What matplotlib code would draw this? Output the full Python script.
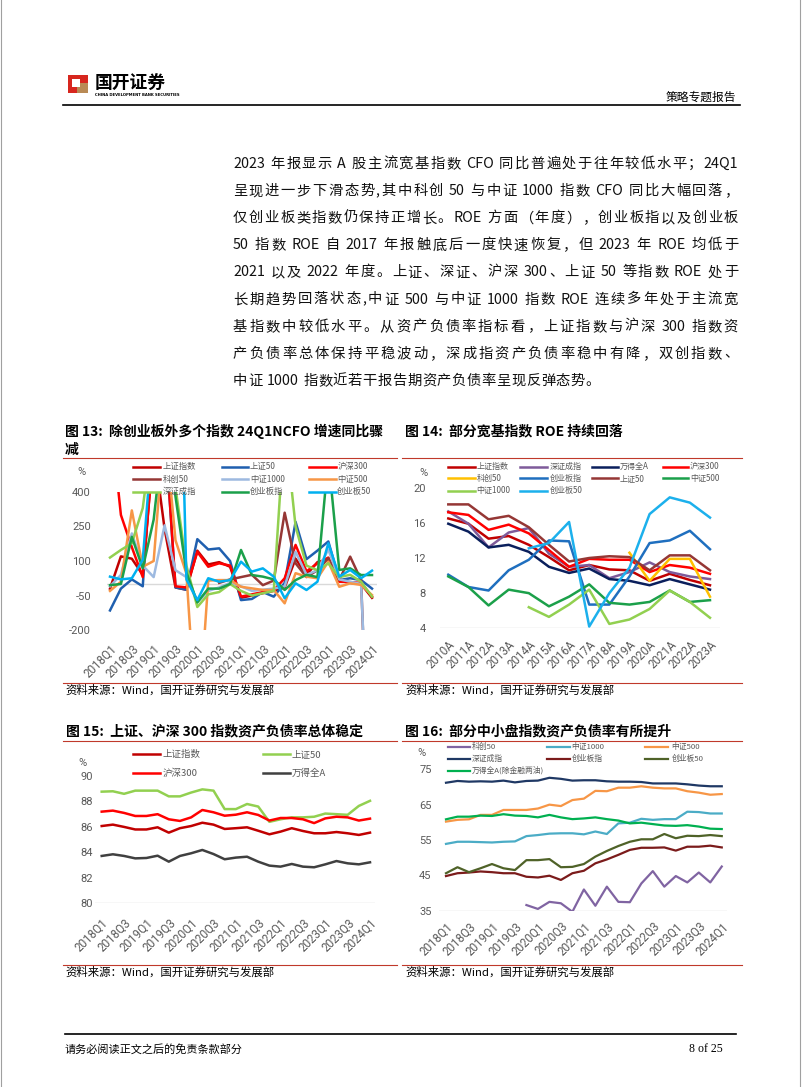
import matplotlib
matplotlib.use("Agg")
import matplotlib.pyplot as plt
import numpy as np
from matplotlib.lines import Line2D
from matplotlib.patches import Rectangle

W, H = 802, 1087
CJK = ["Noto Sans CJK SC", "DejaVu Sans"]
NUM = ["Roboto", "DejaVu Sans"]
GRAY = "#595959"
BASE = "#D9D9D9"
RULE = "#C0392B"
nan = np.nan

# ---------------- body text ----------------
body_lines = [
    "2023 年报显示 A 股主流宽基指数 CFO 同比普遍处于往年较低水平；24Q1",
    "呈现进一步下滑态势,其中科创 50 与中证 1000 指数 CFO 同比大幅回落，",
    "仅创业板类指数仍保持正增长。ROE 方面（年度），创业板指以及创业板",
    "50 指数 ROE 自 2017 年报触底后一度快速恢复，但 2023 年 ROE 均低于",
    "2021 以及 2022 年度。上证、深证、沪深 300、上证 50 等指数 ROE 处于",
    "长期趋势回落状态,中证 500 与中证 1000 指数 ROE 连续多年处于主流宽",
    "基指数中较低水平。从资产负债率指标看，上证指数与沪深 300 指数资",
    "产负债率总体保持平稳波动，深成指资产负债率稳中有降，双创指数、",
    "中证 1000 指数近若干报告期资产负债率呈现反弹态势。",
]

# ---------------- 图13: NCFO 同比 ----------------
quarters = ["2018Q1", "2018Q2", "2018Q3", "2018Q4", "2019Q1", "2019Q2", "2019Q3",
            "2019Q4", "2020Q1", "2020Q2", "2020Q3", "2020Q4", "2021Q1", "2021Q2",
            "2021Q3", "2021Q4", "2022Q1", "2022Q2", "2022Q3", "2022Q4", "2023Q1",
            "2023Q2", "2023Q3", "2023Q4", "2024Q1"]
cfo_names = ["上证指数", "上证50", "沪深300", "科创50", "中证1000", "中证500",
             "深证成指", "创业板指", "创业板50"]
cfo_colors = ["#C00000", "#1F5FAF", "#FF0000", "#953735", "#9DB9E0", "#F79646",
              "#92D050", "#1BA04A", "#00B0F0"]
cfo_sh = [-20, 120, 110, 40, 600, 240, -15, -25, 145, 85, 95, 75, -60, -50, -40,
          -30, -15, 110, 40, 95, 105, 15, 5, 0, -60]
cfo_sz50 = [-115, -20, 20, -10, 700, 700, -15, -25, 195, 150, 155, 100, -70, -65,
            -35, -55, 5, 270, 108, 145, 185, 17, 25, 17, -20]
cfo_hs300 = [750, 300, 160, 30, 600, 700, -10, -15, 140, 75, 90, 80, -55, -45, -35,
             -28, 25, 170, 55, 90, 115, 10, 8, 5, -55]
cfo_kc50 = [nan, nan, nan, nan, nan, nan, nan, nan, nan, nan, 5, 20, 30, 40, -5,
            15, 310, 90, 30, 60, 112, 17, 119, 17, -1250]
cfo_zz1000 = [-10, 40, 220, 80, 30, 255, 60, 30, -80, -30, -15, 5, -10, -30, -25,
              -20, -10, 140, 40, 60, 150, 20, 10, 0, -1100]
cfo_zz500 = [-30, 10, 320, 75, 100, 700, 190, 45, -680, 15, 17, 17, -12, -19, -26,
             -26, -84, 47, 32, 25, 97, -12, 3, -4, -48]
cfo_szcz = [115, 148, 177, 330, 700, 700, 420, 80, -100, -45, -35, 0, -30, -50, -40,
            -30, 700, 250, 80, 60, 90, 30, 40, 10, -55]
cfo_cyb = [-5, 0, 205, 68, 280, 700, 380, 50, -80, -20, -20, 0, 148, 39, 32, 20,
           -26, 17, 40, 30, 550, 61, 68, 39, 39]
cfo_cyb50 = [32, 20, 25, 105, 700, 700, 1900, 20, -70, 25, 10, 17, 97, 54, 68, 32,
             -62, 3, -26, 10, 177, 32, 61, 25, 58]
cfo_series = [cfo_sh, cfo_sz50, cfo_hs300, cfo_kc50, cfo_zz1000, cfo_zz500,
              cfo_szcz, cfo_cyb, cfo_cyb50]
cfo_yticks = [-200, -50, 100, 250, 400]

# ---------------- 图14: ROE ----------------
years = ["2010A", "2011A", "2012A", "2013A", "2014A", "2015A", "2016A", "2017A",
         "2018A", "2019A", "2020A", "2021A", "2022A", "2023A"]
roe_names = ["上证指数", "深证成指", "万得全A", "沪深300", "科创50", "创业板指",
             "上证50", "中证500", "中证1000", "创业板50"]
roe_colors = ["#C00000", "#7E5B9A", "#0A1F5C", "#FF0000", "#FFC000", "#1F6FBF",
              "#953735", "#1BA04A", "#92D050", "#1CB0EC"]
roe_sh = [16.5, 15.9, 14.2, 14.5, 13.5, 12.1, 10.6, 11.2, 10.7, 10.6, 9.4, 10.2, 9.5, 8.9]
roe_szcz = [17.3, 15.9, 13.2, 14.9, 15.4, 12.5, 11.0, 11.2, 9.7, 10.4, 11.5, 10.4, 9.9, 9.6]
roe_wdqa = [15.9, 15.0, 13.2, 13.5, 12.7, 11.0, 10.3, 10.8, 9.6, 9.4, 8.9, 9.6, 9.0, 8.4]
roe_hs300 = [17.2, 16.9, 15.2, 15.8, 14.8, 12.9, 11.0, 11.9, 11.8, 11.8, 10.4, 11.2, 10.9, 10.2]
roe_kc50 = [nan, nan, nan, nan, nan, nan, nan, nan, nan, 12.6, 9.4, 11.9, 11.9, 7.6]
roe_cyb = [10.1, 8.7, 8.3, 10.6, 11.8, 14.0, 13.9, 6.7, 6.7, 9.9, 13.7, 14.0, 15.1, 13.0]
roe_sz50 = [18.1, 18.1, 16.4, 16.8, 15.5, 13.5, 11.6, 12.0, 12.2, 12.1, 10.6, 12.3, 12.3, 10.6]
roe_zz500 = [9.9, 8.7, 6.6, 8.4, 8.0, 6.5, 7.6, 9.0, 6.9, 6.7, 7.0, 8.3, 7.0, 7.2]
roe_zz1000 = [nan, nan, nan, nan, 6.4, 5.3, 6.7, 8.4, 4.5, 5.0, 6.2, 8.3, 7.0, 5.2]
roe_cyb50 = [nan, nan, nan, nan, 13.1, 13.7, 16.1, 4.2, 8.0, 10.9, 17.0, 18.9, 18.3, 16.6]
roe_series = [roe_sh, roe_szcz, roe_wdqa, roe_hs300, roe_kc50, roe_cyb, roe_sz50,
              roe_zz500, roe_zz1000, roe_cyb50]
roe_yticks = [4, 8, 12, 16, 20]

# ---------------- 图15: 资产负债率 (大盘) ----------------
lev_names = ["上证指数", "上证50", "沪深300", "万得全A"]
lev_colors = ["#C00000", "#92D050", "#FF0000", "#404040"]
lev_sh = [86.07, 86.18, 86.0, 85.8, 85.8, 85.97, 85.55, 85.9, 86.07, 86.33, 86.18,
          85.84, 85.9, 85.97, 85.7, 85.42, 85.63, 85.9, 85.68, 85.5, 85.5, 85.6,
          85.5, 85.37, 85.55]
lev_sz50 = [88.77, 88.8, 88.6, 88.85, 88.85, 88.85, 88.4, 88.4, 88.7, 88.95, 88.85,
            87.4, 87.4, 87.8, 87.6, 86.4, 86.6, 86.75, 86.75, 86.8, 87.05, 87.0,
            86.95, 87.65, 88.05]
lev_hs300 = [87.2, 87.28, 87.1, 86.86, 86.86, 87.0, 86.6, 86.47, 86.75, 87.33, 87.15,
             86.88, 86.96, 87.15, 86.94, 86.5, 86.7, 86.7, 86.6, 86.3, 86.67, 86.8,
             86.75, 86.5, 86.65]
lev_wdqa = [83.72, 83.85, 83.72, 83.53, 83.56, 83.74, 83.27, 83.72, 83.93, 84.19,
            83.87, 83.46, 83.59, 83.66, 83.27, 82.96, 82.88, 83.09, 82.88, 82.83,
            83.06, 83.32, 83.14, 83.06, 83.22]
lev_series = [lev_sh, lev_sz50, lev_hs300, lev_wdqa]
lev_yticks = [80, 82, 84, 86, 88, 90]

# ---------------- 图16: 资产负债率 (中小盘) ----------------
mid_names = ["科创50", "中证1000", "中证500", "深证成指", "创业板指", "创业板50",
             "万得全A(除金融两油)"]
mid_colors = ["#8064A2", "#4BACC6", "#F79646", "#1F3864", "#7B1B1B", "#4F6228",
              "#00B050"]
mid_kc50 = [nan, nan, nan, nan, nan, nan, nan, 36.6, 35.5, 37.5, 37.1, 34.7, 41.0,
            36.4, 41.8, 37.5, 37.4, 42.7, 46.2, 41.8, 44.8, 43.0, 45.8, 43.0, 47.5]
mid_zz1000 = [53.9, 54.5, 54.5, 54.4, 54.3, 54.5, 54.6, 56.1, 56.4, 56.8, 56.9, 56.9,
              56.6, 57.4, 56.7, 59.7, 59.9, 61.0, 60.7, 60.9, 60.9, 63.0, 62.9, 62.5,
              62.5]
mid_zz500 = [60.2, 60.7, 60.85, 62.1, 62.1, 63.5, 63.5, 63.5, 63.9, 65.0, 64.6, 66.3,
             66.7, 68.9, 68.8, 69.8, 69.8, 70.2, 69.8, 69.6, 69.6, 68.8, 68.4, 67.8,
             68.0]
mid_szcz = [71.2, 71.7, 71.5, 71.6, 71.5, 71.8, 71.3, 71.7, 71.8, 72.6, 72.3, 71.8,
            71.9, 71.9, 71.6, 71.5, 71.5, 71.4, 71.0, 71.0, 71.0, 70.75, 70.4, 70.2,
            70.2]
mid_cyb = [44.8, 45.6, 45.8, 46.1, 45.9, 45.6, 45.6, 44.6, 44.4, 44.9, 43.7, 45.6,
           46.3, 48.4, 49.5, 50.8, 52.2, 52.8, 52.8, 52.9, 52.0, 53.1, 53.1, 53.4, 52.9]
mid_cyb50 = [45.6, 47.3, 45.9, 47.0, 48.2, 47.0, 46.5, 49.3, 49.3, 49.6, 47.3, 47.4,
             48.2, 50.3, 51.9, 53.3, 54.5, 55.2, 55.2, 56.7, 55.5, 56.2, 56.1, 56.4,
             56.1]
mid_wdqa = [60.85, 61.6, 61.6, 61.9, 61.8, 62.3, 61.9, 61.8, 61.4, 62.1, 61.4, 60.9,
            61.1, 61.4, 60.9, 60.5, 59.7, 59.9, 59.5, 59.1, 59.0, 59.2, 58.8, 58.2,
            58.1]
mid_series = [mid_kc50, mid_zz1000, mid_zz500, mid_szcz, mid_cyb, mid_cyb50, mid_wdqa]
mid_yticks = [35, 45, 55, 65, 75]

source_text = "资料来源：Wind，国开证券研究与发展部"


def ftext(fig, x, y, s, **kw):
    """Text placed in page pixel coordinates (y downwards)."""
    return fig.text(x / W, 1 - y / H, s, **kw)


def hline(fig, x0, x1, y, color, lw):
    fig.add_artist(Line2D([x0 / W, x1 / W], [1 - y / H, 1 - y / H], color=color,
                          lw=lw, transform=fig.transFigure))


def box(fig, x, y, w, h, color):
    fig.add_artist(Rectangle((x / W, 1 - (y + h) / H), w / W, h / H, color=color,
                             transform=fig.transFigure, lw=0))


def make_axes(fig, x_first, step, xlim, top, bottom, ylim):
    left = x_first + xlim[0] * step
    right = x_first + xlim[1] * step
    ax = fig.add_axes([left / W, 1 - bottom / H, (right - left) / W, (bottom - top) / H])
    ax.set_xlim(*xlim)
    ax.set_ylim(*ylim)
    for sp in ax.spines.values():
        sp.set_visible(False)
    ax.set_facecolor("none")
    return ax, left


def style_ticks(ax, left, label_right, xticks, xlabels, yticks, xpad, fs=8.0):
    ax.set_yticks(yticks)
    ax.set_yticklabels([str(v) for v in yticks])
    ax.set_xticks(xticks)
    ax.set_xticklabels(xlabels)
    ax.tick_params(axis="y", length=0, pad=(left - label_right) * 0.72,
                   labelsize=fs, labelcolor=GRAY)
    ax.tick_params(axis="x", length=0, pad=xpad, labelsize=fs + 0.4, labelcolor=GRAY)
    for lab in ax.get_yticklabels():
        lab.set_family(NUM)
    for lab in ax.get_xticklabels():
        lab.set_family(NUM)
        lab.set_rotation(45)
        lab.set_ha("right")
        lab.set_rotation_mode("anchor")


def legend_block(fig, names, colors, cols, rows, size, lw=1.8):
    ncol = len(cols)
    for k, (name, color) in enumerate(zip(names, colors)):
        r, c = divmod(k, ncol)
        h0, h1, tx = cols[c]
        y = rows[r]
        hline(fig, h0, h1, y, color, lw)
        ftext(fig, tx, y, name, fontsize=size, color=GRAY, va="center", family=CJK)


def split_tokens(s):
    # CJK characters are single tokens, ASCII runs stay together; remember spaces
    toks = []
    word, space = "", False
    word_space = False
    for ch in s:
        if ch == " ":
            if word:
                toks.append((word, word_space))
                word = ""
            space = True
        elif ord(ch) < 128:
            if not word:
                word_space = space
                space = False
            word += ch
        else:
            if word:
                toks.append((word, word_space))
                word = ""
            toks.append((ch, space))
            space = False
    if word:
        toks.append((word, word_space))
    return toks


def body_line(fig, renderer, s, x0, x1, y, size, justify=True):
    toks = split_tokens(s)
    widths = []
    for t, _ in toks:
        tt = ftext(fig, 0, 0, t, fontsize=size, family=CJK)
        widths.append(tt.get_window_extent(renderer).width)
        tt.remove()
    space_w = size * 100 / 72 * 0.28
    natural = sum(widths) + space_w * sum(1 for _, sp in toks[1:] if sp)
    extra = (x1 - x0 - natural) / (len(toks) - 1) if justify else 0.6
    x = x0
    for i, (t, sp) in enumerate(toks):
        if i > 0:
            x += extra + (space_w if sp else 0)
        ftext(fig, x, y, t, fontsize=size, family=CJK, va="center", color="#111111")
        x += widths[i]


fig = plt.figure(figsize=(W / 100, H / 100), dpi=100)
fig.patch.set_facecolor("white")
renderer = fig.canvas.get_renderer()

# page edges
for xe in (1, W - 2):
    fig.add_artist(Line2D([xe / W, xe / W], [0, 1], color="#A0A0A0", lw=0.8,
                          transform=fig.transFigure))

# header
box(fig, 68, 75, 20, 18, "#D7261E")
box(fig, 77, 83, 11, 10, "#B98A55")
box(fig, 72, 79, 8, 8, "white")
ftext(fig, 95, 83.5, "国开证券", fontsize=12.8, fontweight="bold", family=CJK, va="center")
ftext(fig, 95, 94.5, "CHINA DEVELOPMENT BANK SECURITIES", fontsize=2.7,
      family=["DejaVu Sans"], va="center", fontweight="bold")
ftext(fig, 736, 97, "策略专题报告", fontsize=8.5, family=CJK, va="center", ha="right")
hline(fig, 63, 740, 104.5, "black", 1.2)

# body
for k, line in enumerate(body_lines):
    body_line(fig, renderer, line, 233, 738, 164 + 27.1 * k, 10.3,
              justify=(k < len(body_lines) - 1))

# chart titles, rules, sources
title_kw = dict(fontsize=10, fontweight="bold", family=CJK, va="center")
ftext(fig, 65, 431.7, "图 13:  除创业板外多个指数 24Q1NCFO 增速同比骤", **title_kw)
ftext(fig, 65, 450, "减", **title_kw)
ftext(fig, 405, 431.7, "图 14:  部分宽基指数 ROE 持续回落", **title_kw)
ftext(fig, 66, 731.7, "图 15:  上证、沪深 300 指数资产负债率总体稳定", **title_kw)
ftext(fig, 405, 731.7, "图 16:  部分中小盘指数资产负债率有所提升", **title_kw)
for yy in (458.3, 740.7, 683.3, 965):
    hline(fig, 63, 397, yy, RULE, 0.8)
    hline(fig, 402, 742, yy, RULE, 0.8)
for xs, ys in ((65, 690.5), (405, 690.5), (65, 972), (405, 972)):
    ftext(fig, xs, ys, source_text, fontsize=8.2, family=CJK, va="center")

# footer
hline(fig, 65, 736, 1034, "black", 1.2)
ftext(fig, 65, 1049, "请务必阅读正文之后的免责条款部分", fontsize=8, family=CJK, va="center")
ftext(fig, 723, 1049, "8 of 25", fontsize=8.5, family=["Liberation Serif"],
      va="center", ha="right")

# ---- chart 13 ----
xq = np.arange(len(quarters))
ax13, l13 = make_axes(fig, 110, 262 / 24, (-0.3, 24.47), 492, 630, (-200, 400))
ax13.axhline(0, color=BASE, lw=1, zorder=0)
for vals, color in zip(cfo_series, cfo_colors):
    ax13.plot(xq, vals, color=color, lw=1.8)
style_ticks(ax13, l13, 91, xq[::2], quarters[::2], cfo_yticks, 8.6)
ftext(fig, 82, 471.7, "%", fontsize=8, color=GRAY, ha="center", va="center", family=NUM)
legend_block(fig, cfo_names, cfo_colors,
             [(133.3, 160, 162.3), (222.3, 248.3, 250), (309.3, 335.7, 337.3)],
             [466.7, 479.3, 491.7], 6.0)

# ---- chart 14 ----
xy = np.arange(len(years))
ax14, l14 = make_axes(fig, 448.3, 20.13, (-0.41, 13.5), 487.7, 628.3, (4, 20))
ax14.axhline(4, color=BASE, lw=1, zorder=0)
for vals, color in zip(roe_series, roe_colors):
    ax14.plot(xy, vals, color=color, lw=1.8)
style_ticks(ax14, l14, 426, xy, years, roe_yticks, 7.2)
ftext(fig, 423.3, 473.3, "%", fontsize=8, color=GRAY, ha="center", va="center", family=NUM)
legend_block(fig, roe_names, roe_colors,
             [(448.3, 475, 476.7), (520, 546.7, 549.3), (591.7, 618.3, 620),
              (663.3, 688.3, 690)],
             [466.7, 478.3, 490.7], 5.8)

# ---- chart 15 ----
ax15, l15 = make_axes(fig, 101.7, 11.18, (-0.6, 24.45), 776, 903.3, (80, 90))
ax15.axhline(80, color=BASE, lw=1, zorder=0)
for vals, color in zip(lev_series, lev_colors):
    ax15.plot(xq, vals, color=color, lw=1.8)
style_ticks(ax15, l15, 93.3, xq[::2], quarters[::2], lev_yticks, 9.4)
ftext(fig, 82.3, 763.3, "%", fontsize=8, color=GRAY, ha="center", va="center", family=NUM)
legend_block(fig, lev_names, lev_colors,
             [(133.3, 160, 162.3), (263.3, 290, 291.7)],
             [754.3, 772.7], 6.8)

# ---- chart 16 ----
ax16, l16 = make_axes(fig, 446, 11.49, (-0.58, 24.48), 769.3, 910.7, (35, 75))
ax16.axhline(35, color=BASE, lw=1, zorder=0)
for vals, color in zip(mid_series, mid_colors):
    ax16.plot(xq, vals, color=color, lw=1.6)
style_ticks(ax16, l16, 431.7, xq[::2], quarters[::2], mid_yticks, 6.5)
ftext(fig, 421.7, 753.3, "%", fontsize=8, color=GRAY, ha="center", va="center", family=NUM)
legend_block(fig, mid_names, mid_colors,
             [(448.3, 470, 471.7), (546.7, 570, 571.7), (645, 668.3, 671.7)],
             [747.3, 759, 770.7], 5.6, lw=1.6)

fig.savefig("out.png", dpi=100)
plt.close(fig)
